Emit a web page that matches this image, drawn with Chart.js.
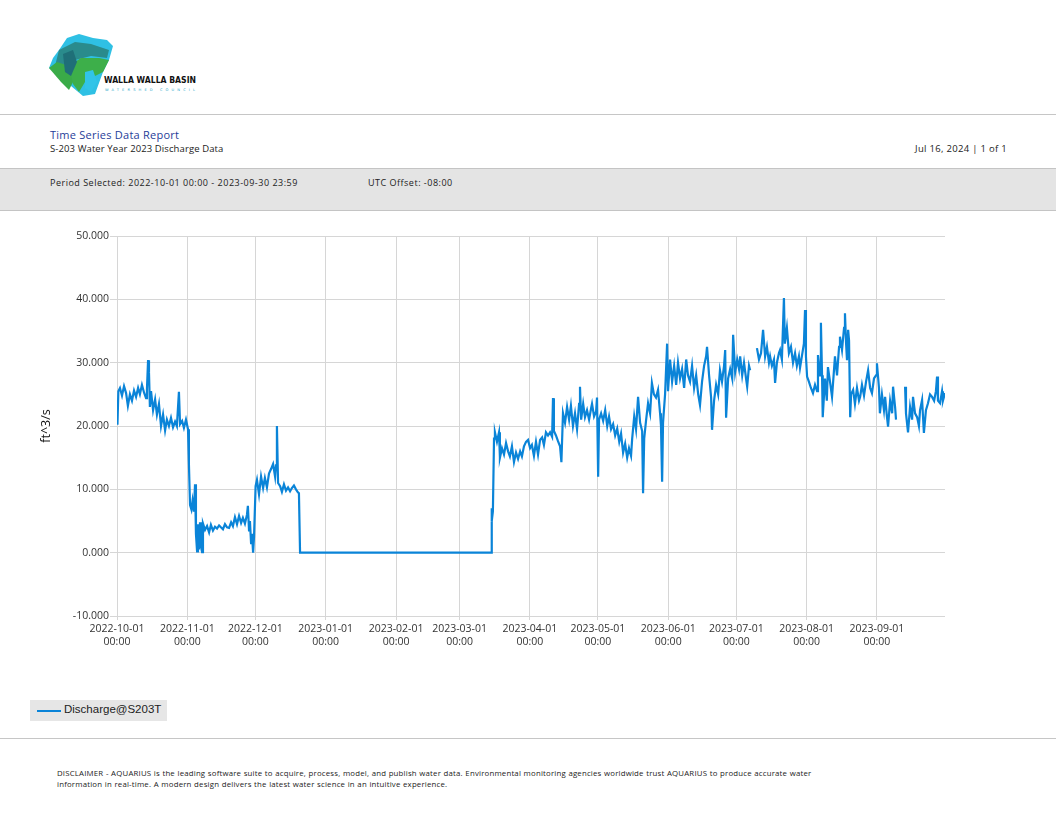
<!DOCTYPE html>
<html>
<head>
<meta charset="utf-8">
<script src="https://cdn.jsdelivr.net/npm/chart.js@4.4.1/dist/chart.umd.min.js"></script>
<style>
  body { margin: 0; width: 1056px; height: 816px; background: #fff; font-family: 'Open Sans', 'DejaVu Sans', sans-serif; position: relative; overflow: hidden; }
  .abs { position: absolute; }
  .rule { left: 0; width: 1056px; height: 0; border-top: 1px solid #c6c6c6; }
  #band { left: 0; top: 168px; width: 1056px; height: 41px; background: #e4e4e4; border-top: 1px solid #c4c4c4; border-bottom: 1px solid #c4c4c4; }
  .small { font-size: 9.5px; color: #222; white-space: nowrap; }
  #chartBox { left: 30px; top: 226px; width: 925px; height: 424px; }
  #legend { left: 30px; top: 700px; width: 137px; height: 21px; background: #e6e6e6; font-family: 'Liberation Sans', Arial, sans-serif; font-size: 11.5px; color: #222; }
  #legend span.line { position: absolute; left: 7px; top: 10px; width: 24px; border-top: 2px solid #0a84d8; }
  #legend span.txt { position: absolute; left: 34px; top: 3px; }
  #disc { left: 57px; top: 768px; font-size: 7.8px; letter-spacing: 0.2px; word-spacing: 0.3px; color: #222; line-height: 11px; width: 820px; white-space: nowrap; }
</style>
</head>
<body>
<svg class="abs" style="left:45px;top:32px" width="160" height="66" viewBox="0 0 160 66">
  <polygon points="22,6 34,2 48,6 62,8 68,14 64,28 58,40 50,62 38,64 26,54 16,44 4,36 8,26 14,18" fill="#2fc0e4"/>
  <polygon points="14,18 30,10 46,12 64,18 62,26 46,24 30,28 20,36 10,34" fill="#2a8b8c"/>
  <polygon points="4,36 12,30 24,34 30,46 24,58 16,50" fill="#3aab48"/>
  <polygon points="24,34 36,26 54,26 64,28 58,40 50,44 40,50 34,60 28,52" fill="#3daf4a"/>
  <polygon points="18,22 28,18 32,30 26,44 20,40" fill="#1f6f78"/>
  <polygon points="40,40 48,38 52,50 46,60 40,56" fill="#31c4e8"/>
  <text x="59" y="51" font-family="DejaVu Sans Condensed, DejaVu Sans, sans-serif" font-size="9.5" font-weight="bold" fill="#111" textLength="92" lengthAdjust="spacingAndGlyphs">WALLA WALLA BASIN</text>
  <text x="60" y="59" font-family="DejaVu Sans, sans-serif" font-size="3.6" fill="#2aa7c9" textLength="90" lengthAdjust="spacing">WATERSHED COUNCIL</text>
</svg>

<div class="abs rule" style="top:114px"></div>
<div class="abs" style="left:50px;top:127px;font-size:11px;color:#1f3d99;letter-spacing:0.25px;">Time Series Data Report</div>
<div class="abs small" style="left:50px;top:142px;letter-spacing:0.1px;">S-203 Water Year 2023 Discharge Data</div>
<div class="abs small" style="right:49px;top:142px;letter-spacing:0.3px;">Jul 16, 2024 | 1 of 1</div>
<div id="band" class="abs"></div>
<div class="abs small" style="left:50px;top:176px;font-size:9px;letter-spacing:0.5px;">Period Selected: 2022-10-01 00:00 - 2023-09-30 23:59</div>
<div class="abs small" style="left:368px;top:176px;font-size:9px;letter-spacing:0.5px;">UTC Offset: -08:00</div>

<div id="chartBox" class="abs"><canvas id="chart"></canvas></div>

<div id="legend" class="abs"><span class="line"></span><span class="txt">Discharge@S203T</span></div>
<div class="abs rule" style="top:738px"></div>
<div id="disc" class="abs">DISCLAIMER - AQUARIUS is the leading software suite to acquire, process, model, and publish water data. Environmental monitoring agencies worldwide trust AQUARIUS to produce accurate water<br>information in real-time. A modern design delivers the latest water science in an intuitive experience.</div>

<script>
// days since 2022-10-01 00:00 (UTC-08:00)
const days = [
  0, 0.2, 0.6, 1.3, 2.2, 3.1, 4.0, 4.8, 5.7, 6.6, 7.5, 8.4, 9.3, 10.1, 11.0, 11.9, 12.8, 13.2, 13.7, 14.1,
  14.5, 15.0, 15.9, 16.8, 17.6, 18.5, 19.4, 20.3, 21.2, 22.0, 22.9, 23.8, 24.7, 25.6, 26.4, 27.3, 27.8, 28.7, 29.5, 30.4,
  31.3, 31.7, 32.2, 32.8, 33.3, 33.9, 34.4, 34.8, 35.3, 35.7, 36.1, 36.6, 37.0, 37.5, 37.9, 38.8, 39.7, 40.6, 41.4, 42.3,
  43.2, 44.1, 45.0, 45.8, 46.7, 47.6, 48.5, 49.4, 50.3, 51.1, 52.0, 52.9, 53.8, 54.7, 55.5, 56.4, 57.3, 57.7, 58.2, 58.6,
  59.1, 59.5, 60.0, 60.4, 61.1, 61.7, 62.6, 63.5, 64.4, 65.2, 66.1, 67.0, 67.9, 68.8, 69.7, 70.1, 70.5, 71.0, 71.9, 72.7,
  73.6, 74.5, 75.4, 76.3, 77.1, 78.0, 78.9, 79.8, 80.2, 80.7, 164.9, 165.1, 165.3, 165.7, 166.2, 166.6, 167.5, 168.4, 168.8, 169.7,
  170.6, 171.5, 172.4, 173.2, 174.1, 175.0, 175.9, 176.8, 177.7, 178.5, 179.4, 180.3, 181.2, 182.1, 182.9, 183.8, 184.7, 185.6, 186.5, 187.4,
  188.2, 189.1, 190.0, 190.9, 191.8, 192.2, 192.6, 193.5, 194.4, 195.3, 195.9, 196.6, 197.5, 198.4, 199.3, 200.1, 201.0, 201.9, 202.8, 203.7,
  204.1, 204.6, 205.5, 206.3, 207.2, 208.1, 209.0, 209.4, 210.3, 211.2, 211.6, 212.1, 212.5, 213.4, 214.3, 215.2, 216.1, 216.9, 217.8, 218.7,
  219.6, 220.5, 221.4, 222.2, 223.1, 224.0, 224.9, 225.7, 226.6, 227.1, 228.0, 228.8, 229.7, 230.6, 231.5, 231.9, 232.4, 233.2, 234.1, 235.0,
  235.8, 236.7, 237.6, 238.5, 239.4, 239.8, 240.3, 240.7, 241.6, 242.5, 242.9, 243.8, 244.7, 245.6, 246.5, 247.3, 248.2, 249.1, 250.0, 250.9,
  251.7, 252.6, 253.5, 254.4, 255.3, 256.2, 257.0, 257.9, 258.8, 259.7, 260.1, 261.0, 261.9, 262.3, 263.2, 264.1, 265.0, 265.8, 266.7, 267.6,
  268.1, 268.5, 269.4, 270.3, 271.2, 271.6, 272.5, 273.4, 274.2, 274.7, 275.6, 276.4, 277.3, 277.8, 278.6, 279.1, 280.6, 282.1, 283.0, 283.9,
  284.8, 285.7, 286.5, 287.4, 287.9, 288.7, 289.6, 290.1, 290.9, 291.8, 292.3, 293.1, 294.0, 294.4, 295.3, 296.2, 297.1, 298.0, 298.9, 299.7,
  300.6, 301.1, 301.9, 302.8, 303.3, 303.7, 304.2, 305.0, 305.9, 306.8, 307.7, 308.6, 309.0, 309.9, 310.3, 310.8, 311.1, 312.1, 312.9, 313.4,
  314.3, 315.2, 316.0, 316.5, 317.4, 318.3, 318.7, 319.6, 320.5, 320.9, 321.4, 321.8, 322.3, 322.7, 323.2, 323.6, 324.5, 325.3, 326.2, 327.1,
  327.6, 328.4, 329.3, 330.2, 331.1, 332.0, 332.8, 333.7, 334.6, 335.0, 335.9, 336.3, 337.2, 338.1, 338.6, 339.4, 339.9, 340.8, 341.7, 342.1,
  343.0, 343.4, 345.4, 347.4, 347.8, 348.7, 349.6, 350.5, 350.9, 351.8, 352.7, 353.5, 354.0, 354.9, 355.7, 356.6, 357.5, 358.4, 359.3, 360.2,
  361.0, 361.5, 361.9, 362.8, 363.7, 364.1, 365.0
];

// Discharge@S203T, ft^3/s (null = missing record)
const flow = [
  21.0, 20.2, 25.5, 26.0, 24.8, 26.3, 25.2, 23.2, 25.0, 24.0, 25.6, 24.6, 26.0, 25.0, 26.5, 25.3, 24.4, 25.8, 30.4, 28.5,
  23.0, 25.5, 22.5, 24.2, 21.8, 23.5, 20.0, 21.8, 19.3, 21.0, 20.0, 21.3, 19.8, 20.7, 20.0, 25.4, 20.3, 20.8, 19.7, 21.0,
  19.5, 14.0, 7.5, 6.8, 8.2, 6.5, 10.8, 3.0, 0.2, 4.5, 0.5, 4.8, 1.0, 0.1, 4.6, 3.6, 4.2, 3.2, 4.4, 3.5,
  4.1, 3.8, 4.3, 4.0, 3.7, 4.5, 4.0, 3.9, 4.8, 4.2, 5.6, 4.5, 5.8, 4.7, 5.5, 4.6, 6.0, 7.4, 3.5, 5.0,
  1.5, 3.0, 0.0, 2.5, 10.5, 11.5, 9.2, 12.0, 10.2, 11.8, 10.3, 12.5, 13.2, 14.0, 12.0, 13.8, 20.0, 11.0, 10.5, 9.6,
  10.8, 9.8, 10.3, 9.7, 10.2, 10.6, 10.0, 9.5, 9.4, 0.0, 0.0, 7.0, 5.0, 6.5, 18.0, 19.0, 17.5, 19.0, 15.0, 16.5,
  15.5, 17.3, 16.0, 15.2, 16.8, 14.3, 15.8, 14.8, 16.0, 15.2, 16.8, 17.5, 17.8, 16.5, 17.0, 15.3, 17.5, 15.5, 17.8, 18.2,
  17.0, 19.0, 18.5, 19.0, 18.3, 24.4, 19.2, 18.5, 17.6, 16.8, 14.3, 22.0, 20.5, 23.0, 21.0, 23.2, 20.0, 22.0, 19.5, 23.5,
  26.2, 21.0, 23.5, 21.4, 22.5, 21.0, 22.8, 23.5, 21.5, 22.3, 24.5, 12.0, 21.0, 22.0, 20.8, 22.5, 20.0, 21.5, 19.5, 20.3,
  18.5, 19.6, 17.5, 18.8, 15.8, 17.2, 15.0, 16.5, 15.3, 18.0, 21.5, 19.5, 24.6, 20.5, 19.2, 9.4, 18.0, 20.8, 23.6, 22.0,
  26.8, 25.0, 24.5, 25.7, 22.0, 20.0, 11.2, 20.5, 25.0, 33.0, 25.5, 30.5, 27.0, 29.5, 26.5, 30.0, 27.5, 29.0, 26.0, 30.5,
  28.0, 27.0, 29.5, 26.0, 28.0, 25.0, 23.3, 27.0, 29.5, 31.0, 32.5, 28.0, 24.5, 19.4, 24.0, 26.5, 25.0, 28.8, 27.0, 29.5,
  32.0, 21.3, 27.5, 29.0, 27.5, 34.4, 28.5, 30.5, 29.0, 31.0, 28.0, 30.0, 27.5, 26.2, 29.5, 28.8, null, 32.3, 30.5, 31.5,
  35.2, 31.0, 32.5, 30.0, 31.0, 29.5, 30.5, 26.8, 30.0, 31.5, 32.0, 30.5, 40.2, 33.0, 35.5, 31.5, 32.5, 30.0, 31.5, 29.5,
  31.0, 29.2, 31.0, 33.0, 38.3, 31.0, 27.8, 27.0, 26.0, 25.2, 26.5, 25.5, 31.2, 28.0, 36.3, 28.0, 21.4, 27.5, 24.0, 29.3,
  27.0, 24.6, 28.5, 31.0, 28.0, 32.5, 34.1, 32.0, 35.5, 37.8, 33.0, 30.4, 35.2, 33.5, 21.4, 25.0, 25.7, 23.5, 26.0, 24.0,
  24.6, 26.5, 24.8, 27.0, 28.8, 26.0, 25.2, 27.5, 28.0, 29.9, 26.0, 22.0, 25.0, 22.5, 24.6, 21.5, 19.9, 24.0, 22.0, 26.2,
  23.0, 21.0, null, 26.2, 22.0, 19.0, 23.0, 21.0, 24.6, 22.0, 21.4, 20.0, 22.5, 24.1, 18.9, 22.5, 23.6, 25.0, 24.6, 24.0,
  25.5, 27.8, 24.0, 23.6, 25.5, 24.0, 25.2
];

const monthDays = [0, 31, 61, 92, 123, 151, 182, 212, 243, 273, 304, 335];
const monthLabels = ['2022-10-01', '2022-11-01', '2022-12-01', '2023-01-01', '2023-02-01', '2023-03-01',
  '2023-04-01', '2023-05-01', '2023-06-01', '2023-07-01', '2023-08-01', '2023-09-01'];
const yTicks = [-10, 0, 10, 20, 30, 40, 50];

const points = days.map((d, i) => ({ x: d, y: flow[i] }));
const gridColor = '#d6d6d6';
const tickFont = { family: "'Open Sans', 'DejaVu Sans', sans-serif", size: 10.5 };

const context = document.querySelector('#chart').getContext('2d');
const chart = new Chart(context, {
    type: 'line',
    data: {
        datasets: [{
            label: 'Discharge@S203T',
            data: points,
            borderColor: '#0a84d8',
            backgroundColor: '#0a84d8',
            borderWidth: 2.2,
            pointRadius: 0,
            tension: 0,
            spanGaps: false
        }]
    },
    options: {
        animation: false,
        responsive: true,
        maintainAspectRatio: false,
        layout: { padding: { top: 10, right: 10, bottom: 0, left: 0 } },
        plugins: { legend: { display: false }, tooltip: { enabled: false } },
        scales: {
            x: {
                type: 'linear',
                min: 0,
                max: 365,
                afterBuildTicks: axis => { axis.ticks = monthDays.map(v => ({ value: v })) },
                afterFit: axis => { axis.height = 34 },
                grid: { color: gridColor, tickLength: 4 },
                border: { display: false },
                ticks: {
                    autoSkip: false,
                    maxRotation: 0,
                    color: '#333',
                    font: tickFont,
                    padding: 3,
                    callback: v => {
                        const i = monthDays.indexOf(v);
                        return i < 0 ? '' : [monthLabels[i], '00:00'];
                    }
                }
            },
            y: {
                min: -10,
                max: 50,
                afterBuildTicks: axis => { axis.ticks = yTicks.map(v => ({ value: v })) },
                afterFit: axis => { axis.width = 87 },
                grid: { color: gridColor, tickLength: 7 },
                border: { display: false },
                title: { display: true, text: 'ft^3/s', color: '#111', font: { family: "'Open Sans', 'DejaVu Sans', sans-serif", size: 12.5 }, padding: { top: 9, bottom: 0 } },
                ticks: { color: '#333', font: tickFont, padding: 1, callback: v => v.toFixed(3) }
            }
        }
    }
});
</script>
</body>
</html>
